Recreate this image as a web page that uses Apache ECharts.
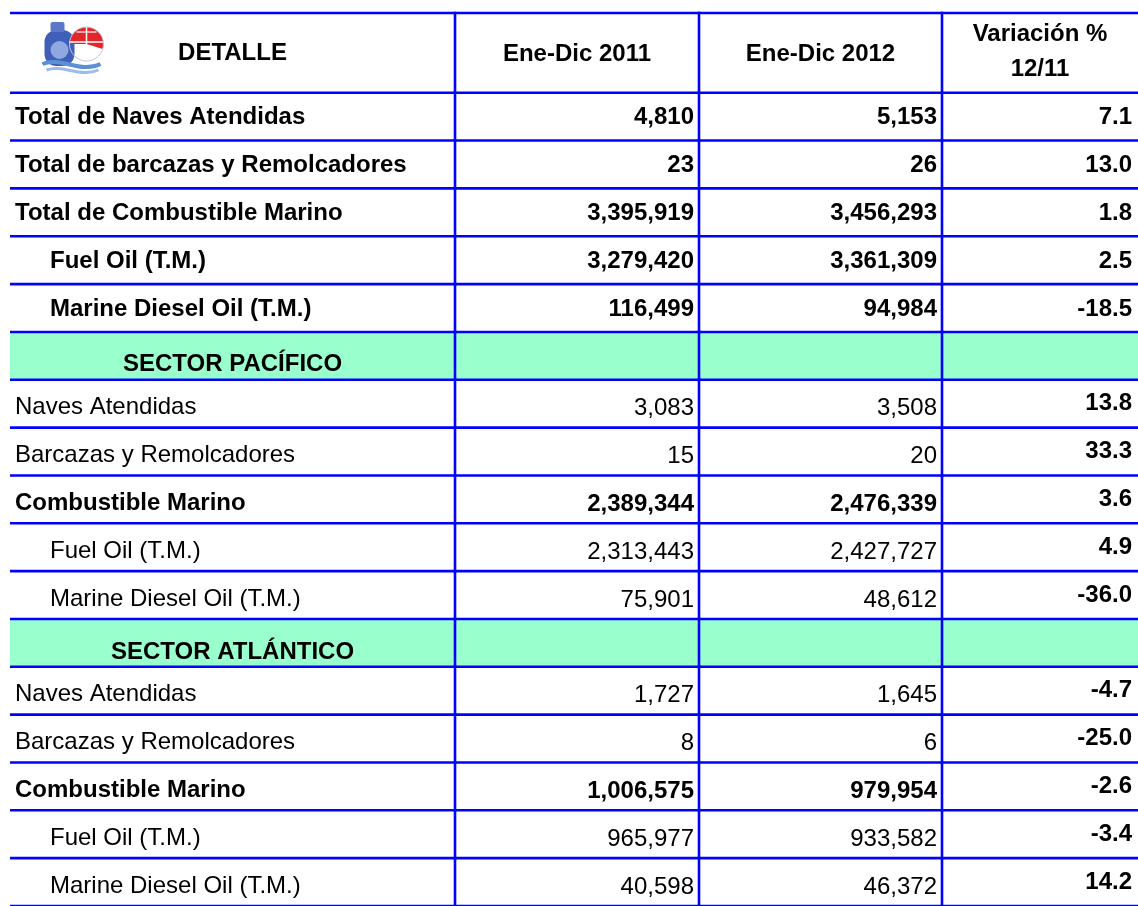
<!DOCTYPE html>
<html style="height: 100%">
<head>
<meta charset="utf-8">
<title>Combustible marino 2011-2012</title>
</head>
<body style="height: 100%; margin: 0; background: #fff">
<div id="container" style="width:1138px;height:906px"></div>
<script type="text/javascript" src="https://cdn.jsdelivr.net/npm/echarts@6/dist/echarts.min.js"></script>
<script type="text/javascript">
// table content
var headers = ['DETALLE', 'Ene-Dic 2011', 'Ene-Dic 2012', 'Variación %\n12/11'];
var labels = [
    'Total de Naves Atendidas', 'Total de barcazas y Remolcadores', 'Total de Combustible Marino',
    'Fuel Oil (T.M.)', 'Marine Diesel Oil (T.M.)', 'SECTOR PACÍFICO',
    'Naves Atendidas', 'Barcazas y Remolcadores', 'Combustible Marino',
    'Fuel Oil (T.M.)', 'Marine Diesel Oil (T.M.)', 'SECTOR ATLÁNTICO',
    'Naves Atendidas', 'Barcazas y Remolcadores', 'Combustible Marino',
    'Fuel Oil (T.M.)', 'Marine Diesel Oil (T.M.)'
];
var y2011 = [4810, 23, 3395919, 3279420, 116499, null, 3083, 15, 2389344, 2313443, 75901, null, 1727, 8, 1006575, 965977, 40598];
var y2012 = [5153, 26, 3456293, 3361309, 94984, null, 3508, 20, 2476339, 2427727, 48612, null, 1645, 6, 979954, 933582, 46372];
var variacion = [7.1, 13.0, 1.8, 2.5, -18.5, null, 13.8, 33.3, 3.6, 4.9, -36.0, null, -4.7, -25.0, -2.6, -3.4, 14.2];
// t = top block (bold, centred), s = sector band, b = bold row, n = normal row, i = indented
var kinds = ['t', 't', 't', 'ti', 'ti', 's', 'n', 'n', 'b', 'i', 'i', 's', 'n', 'n', 'b', 'i', 'i'];

var HEADER_H = 80, ROW_H = 48;
var colEdges = [0, 445, 689, 932, 1128];
var BLUE = '#0000ff', GREEN = '#99ffcc';
var FONT = '"Liberation Sans", Arial, sans-serif';

var rows = [0];
for (var k = 0; k < labels.length; k++) rows.push(k + 1);

function rowBox(api, r) {
    var top = r === 0 ? 0 : HEADER_H + (r - 1) * ROW_H;
    var bottom = HEADER_H + r * ROW_H;
    var a = api.coord([colEdges[0], top]);
    var b = api.coord([colEdges[4], bottom]);
    var xs = colEdges.map(function (e) { return api.coord([e, top])[0]; });
    return { x0: a[0], y0: a[1], x1: b[0], y1: b[1], xs: xs };
}

function txt(text, x, y, align, bold) {
    return {
        type: 'text',
        style: {
            text: text, x: x, y: y, align: align, verticalAlign: 'middle',
            fill: '#000', font: (bold ? 'bold ' : '') + '24px ' + FONT
        }
    };
}

function fmt(v) {
    return v == null ? '' : v.toLocaleString('en-US');
}

function renderCells(params, api) {
    var r = api.value(0);
    var b = rowBox(api, r);
    var cy = (b.y0 + b.y1) / 2;
    var ch = [];
    if (r === 0) {
        ch.push(txt(headers[0], (b.xs[0] + b.xs[1]) / 2, cy + 1, 'center', true));
        ch.push(txt(headers[1], (b.xs[1] + b.xs[2]) / 2, cy + 2, 'center', true));
        ch.push(txt(headers[2], (b.xs[2] + b.xs[3]) / 2, cy + 2, 'center', true));
        var hv = headers[3].split('\n');
        ch.push(txt(hv[0], (b.xs[3] + b.xs[4]) / 2, cy - 18, 'center', true));
        ch.push(txt(hv[1], (b.xs[3] + b.xs[4]) / 2, cy + 17, 'center', true));
        return { type: 'group', children: ch };
    }
    var i = r - 1, kind = kinds[i];
    if (kind === 's') {
        ch.push({ type: 'rect', shape: { x: b.x0, y: b.y0, width: b.x1 - b.x0, height: b.y1 - b.y0 }, style: { fill: GREEN } });
        ch.push(txt(labels[i], (b.xs[0] + b.xs[1]) / 2, cy + 9, 'center', true));
        return { type: 'group', children: ch };
    }
    var top = kind.charAt(0) === 't';
    var boldRow = top || kind === 'b';
    var indent = kind.indexOf('i') >= 0;
    var dyLabel = top ? 1 : 4, dyVal = top ? 1 : 5, dyVar = top ? 1 : 0;
    ch.push(txt(labels[i], b.xs[0] + (indent ? 40 : 5), cy + dyLabel, 'left', boldRow));
    ch.push(txt(fmt(y2011[i]), b.xs[2] - 5, cy + dyVal, 'right', boldRow));
    ch.push(txt(fmt(y2012[i]), b.xs[3] - 5, cy + dyVal, 'right', boldRow));
    ch.push(txt(variacion[i].toFixed(1), b.xs[4] - 6, cy + dyVar, 'right', true));
    return { type: 'group', children: ch };
}

function renderRules(params, api) {
    var r = api.value(0);
    var b = rowBox(api, r);
    var ls = { stroke: BLUE, lineWidth: 2.6 };
    var ch = [];
    if (r === 0) ch.push({ type: 'line', shape: { x1: b.x0, y1: b.y0, x2: b.x1, y2: b.y0 }, style: ls });
    ch.push({ type: 'line', shape: { x1: b.x0, y1: b.y1, x2: b.x1, y2: b.y1 }, style: ls });
    for (var c = 1; c <= 3; c++) {
        ch.push({ type: 'line', shape: { x1: b.xs[c], y1: b.y0 - 1.3, x2: b.xs[c], y2: b.y1 + 1.3 }, style: ls });
    }
    return { type: 'group', children: ch };
}

var dom = document.getElementById('container');
var myChart = echarts.init(dom);

var option = {
    animation: false,
    backgroundColor: '#fff',
    grid: { left: 10, top: 13, width: 1128, height: HEADER_H + ROW_H * labels.length },
    xAxis: { type: 'value', min: 0, max: colEdges[4], show: false },
    yAxis: { type: 'value', min: 0, max: HEADER_H + ROW_H * labels.length, inverse: true, show: false },
    // small emblem in the header cell
    graphic: [{
        type: 'group', left: 40, top: 22, silent: true,
        children: [
            { type: 'rect', shape: { x: 4, y: 10, width: 30, height: 36, r: 12 }, style: { fill: '#3f5fb8' } },
            { type: 'rect', shape: { x: 10, y: 2, width: 14, height: 10, r: 2 }, style: { fill: '#5b78c8' } },
            { type: 'circle', shape: { cx: 19, cy: 30, r: 9 }, style: { fill: '#8fa8e0' } },
            { type: 'sector', shape: { cx: 46, cy: 24, r: 17, startAngle: -Math.PI, endAngle: 0.3 }, style: { fill: '#e3262b' } },
            { type: 'line', shape: { x1: 29, y1: 22, x2: 63, y2: 22 }, style: { stroke: '#fff', lineWidth: 1.5 } },
            { type: 'line', shape: { x1: 46, y1: 7, x2: 46, y2: 40 }, style: { stroke: '#fff', lineWidth: 1.5 } },
            { type: 'line', shape: { x1: 36, y1: 12, x2: 56, y2: 12 }, style: { stroke: '#fff', lineWidth: 1.2 } },
            { type: 'circle', shape: { cx: 46, cy: 24, r: 17 }, style: { fill: 'none', stroke: '#c8c8d8', lineWidth: 1 } },
            { type: 'bezierCurve', shape: { x1: 2, y1: 44, x2: 60, y2: 44, cpx1: 20, cpy1: 36, cpx2: 40, cpy2: 54 }, style: { stroke: '#5c8fd6', lineWidth: 4, fill: 'none' } },
            { type: 'bezierCurve', shape: { x1: 6, y1: 50, x2: 58, y2: 50, cpx1: 22, cpy1: 44, cpx2: 40, cpy2: 58 }, style: { stroke: '#9dbbea', lineWidth: 3, fill: 'none' } }
        ]
    }],
    series: [{
        type: 'custom',
        name: 'celdas',
        coordinateSystem: 'cartesian2d',
        renderItem: renderCells,
        data: rows,
        encode: { y: 0 },
        clip: false
    }, {
        type: 'custom',
        name: 'bordes',
        coordinateSystem: 'cartesian2d',
        renderItem: renderRules,
        data: rows,
        encode: { y: 0 },
        clip: false,
        z: 3
    }]
};

myChart.setOption(option);
</script>
</body>
</html>
